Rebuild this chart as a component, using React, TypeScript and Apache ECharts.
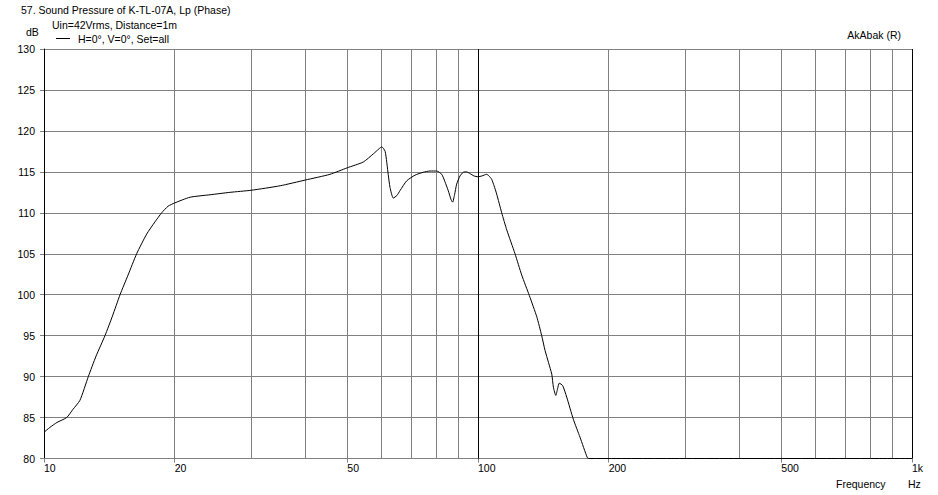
import React, { useEffect, useRef } from "react";
import * as echarts from "echarts";

// Frequency (Hz) and sound pressure level (dB)
const freq = [
  10, 10.32, 10.71, 11.28, 11.66, 12.1, 12.65, 13.18, 13.82, 14.38, 14.97, 15.62, 16.35, 17.24, 18.02, 18.67,
  19.31, 20, 21.7, 24.13, 26.84, 30, 35, 40, 45.6, 50, 54.4, 57.4, 59.1, 60, 61.1, 62.1, 62.7, 63.8, 65,
  66.1, 68.5, 71.6, 74.8, 77.5, 80.3, 82.5, 83.9, 85.4, 86.7, 87.4, 88.3, 89.3, 90.9, 92.5, 94.1, 95.8,
  97.9, 100, 102.1, 104.7, 106, 107.5, 108.9, 110.4, 113.4, 116.5, 121.7, 126.1, 131.3, 136.6, 140.2,
  142.7, 145.4, 147.9, 149.2, 151.1, 152.5, 153.9, 156.7, 160.1, 165.8, 171.8, 178.6, 180, 1000,
];
const spl = [
  83.2, 83.8, 84.4, 85.0, 86.0, 87.1, 90.0, 92.5, 95.0, 97.4, 100.0, 102.4, 105.0, 107.4, 108.9, 110.0,
  110.8, 111.2, 111.9, 112.2, 112.5, 112.75, 113.3, 114.0, 114.7, 115.5, 116.2, 117.2, 117.8, 118.05, 117.5,
  114.7, 113.1, 111.8, 112.1, 112.7, 113.9, 114.6, 114.95, 115.1, 115.1, 114.7, 113.8, 112.7, 111.6, 111.3,
  112.2, 113.5, 114.5, 114.95, 115.0, 114.8, 114.5, 114.4, 114.5, 114.7, 114.5, 114.1, 113.3, 112.3, 110.0,
  107.9, 105.0, 102.4, 99.9, 97.3, 95.0, 93.2, 91.7, 90.3, 88.7, 87.7, 88.5, 89.2, 88.9, 87.5, 84.8, 82.6,
  80.1, 80, 80,
];
const xLabelValues = [10, 20, 50, 100, 200, 500, 1000];
const xGridValues = [20, 30, 40, 50, 60, 70, 80, 90, 200, 300, 400, 500, 600, 700, 800, 900];
const xMajorLines = [100, 1000];
const seriesName = "H=0°, V=0°, Set=all";

const FONT = "Liberation Sans";
const FS = 10.5;
const GRAY = "#808080";

export default function App() {
  const ref = useRef<HTMLDivElement>(null);
  useEffect(() => {
    if (!ref.current) return;
    const chart = echarts.init(ref.current, null, { renderer: "svg" });
    const txt = (text: string, x: number, y: number, align = "left") => ({
      type: "text",
      x,
      y,
      style: { text, fill: "#000", font: `${FS}px ${FONT}`, align, verticalAlign: "middle" },
    });
    chart.setOption({
      animation: false,
      backgroundColor: "#fff",
      textStyle: { fontFamily: FONT, fontSize: FS, color: "#000" },
      grid: { left: 44, right: 26, top: 49, bottom: 36.5, containLabel: false },
      legend: {
        data: [seriesName],
        left: 56,
        top: 33,
        padding: 0,
        icon: "rect",
        itemWidth: 14,
        itemHeight: 1,
        textStyle: { fontFamily: FONT, fontSize: FS, color: "#000", padding: [0, 0, 0, 3] },
      },
      graphic: [
        txt("57. Sound Pressure of K-TL-07A, Lp (Phase)", 21, 9.5),
        txt("Uin=42Vrms, Distance=1m", 52, 24.5),
        txt("dB", 26, 31.5),
        txt("AkAbak (R)", 901, 35, "right"),
        txt("Frequency", 836, 484),
        txt("Hz", 908, 484),
      ],
      xAxis: [
        {
          type: "log",
          logBase: 10,
          min: 10,
          max: 1000,
          axisLine: { show: true, lineStyle: { color: GRAY, width: 1 } },
          axisTick: { show: true, customValues: xLabelValues, length: 4, lineStyle: { color: GRAY } },
          axisLabel: {
            customValues: xLabelValues,
            formatter: (v: number) => (v >= 1000 ? "1k" : String(Math.round(v))),
            margin: 4,
            align: "left",
            color: "#000",
            fontFamily: FONT,
            fontSize: FS,
            showMinLabel: true,
            showMaxLabel: true,
          },
          splitLine: { show: false },
        },
        {
          type: "log",
          logBase: 10,
          min: 10,
          max: 1000,
          position: "bottom",
          axisLine: { show: false },
          axisTick: { show: false, customValues: xGridValues },
          axisLabel: { show: false },
          splitLine: { show: true, lineStyle: { color: GRAY, width: 1 } },
        },
      ],
      yAxis: {
        type: "value",
        min: 80,
        max: 130,
        interval: 5,
        axisLine: { show: true, lineStyle: { color: "#000", width: 1 } },
        axisTick: { show: true, length: 4, lineStyle: { color: GRAY } },
        axisLabel: { margin: 9, color: "#000", fontFamily: FONT, fontSize: FS, padding: [0, 0, 4, 0] },
        splitLine: { show: true, lineStyle: { color: GRAY, width: 1 } },
      },
      series: [
        {
          name: seriesName,
          type: "line",
          xAxisIndex: 0,
          data: freq.map((f, i) => [f, spl[i]]),
          showSymbol: false,
          symbol: "none",
          lineStyle: { color: "#000", width: 1 },
          itemStyle: { color: "#000" },
          smooth: 0.2,
          markLine: {
            silent: true,
            symbol: ["none", "none"],
            label: { show: false },
            lineStyle: { color: "#000", width: 1, type: "solid" },
            data: xMajorLines.map((v) => ({ xAxis: v })),
          },
        },
      ],
    });
    return () => chart.dispose();
  }, []);
  return <div ref={ref} style={{ width: 938, height: 495, position: "absolute", left: 0, top: 0 }} />;
}
